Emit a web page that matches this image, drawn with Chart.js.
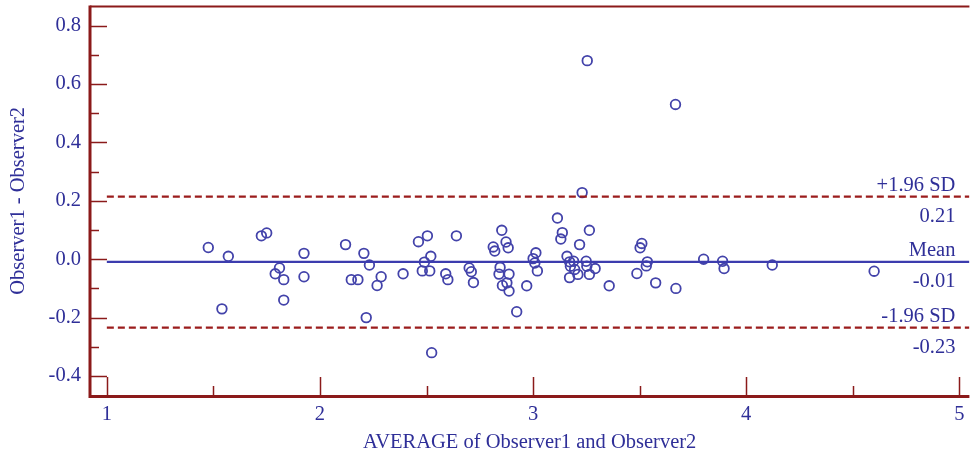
<!DOCTYPE html>
<html><head><meta charset="utf-8">
<script src="https://cdn.jsdelivr.net/npm/chart.js@4/dist/chart.umd.min.js"></script>
<style>html,body{margin:0;padding:0;background:#fff}#wrap{width:976px;height:457px;position:relative}</style>
</head><body><div id="wrap"><canvas id="c" width="976" height="457"></canvas></div>
<script>
// Bland-Altman data: average (x) and difference (y)
const averages = [1.476,1.54,1.57,1.725,1.75,1.81,1.79,1.83,1.83,1.925,1.925,
  2.12,2.206,2.232,2.147,2.178,2.287,2.268,2.217,2.39,2.462,2.504,2.52,2.49,2.48,2.515,2.524,2.59,2.60,2.64,2.70,2.71,2.72,
  2.813,2.82,2.853,2.873,2.883,2.845,2.84,2.887,2.856,2.877,2.887,2.923,2.97,3.0,3.013,3.008,3.02,
  3.114,3.137,3.13,3.159,3.171,3.19,3.175,3.195,3.171,3.21,3.218,3.23,3.254,3.249,3.252,3.264,3.264,3.291,3.357,
  3.487,3.51,3.502,3.536,3.531,3.575,3.67,3.668,3.80,3.889,3.896,4.122,4.60];
const differences = [0.040,-0.17,0.010,0.080,0.090,-0.030,-0.050,-0.070,-0.140,0.020,-0.060,
  0.050,0.020,-0.020,-0.070,-0.070,-0.060,-0.090,-0.200,-0.050,0.060,0.080,0.010,-0.010,-0.040,-0.040,-0.320,-0.050,-0.070,0.080,-0.030,-0.043,-0.080,
  0.042,0.028,0.099,0.059,0.039,-0.028,-0.051,-0.051,-0.090,-0.081,-0.109,-0.180,-0.091,0.002,0.022,-0.013,-0.040,
  0.141,0.091,0.069,0.010,-0.009,-0.007,-0.024,-0.035,-0.063,-0.052,0.050,0.228,0.680,-0.007,-0.024,-0.052,0.099,-0.032,-0.091,
  -0.049,0.054,0.039,-0.009,-0.023,-0.081,-0.100,0.530,0.000,-0.007,-0.032,-0.020,-0.041];
const meanDiff = -0.009;
const upperLimit = 0.214;
const lowerLimit = -0.234;
const limitTexts = [['+1.96 SD','0.21'],['Mean','-0.01'],['-1.96 SD','-0.23']];
const xTickValues = [1,2,3,4,5];
const xMinorValues = [1.5,2.5,3.5,4.5];
const yTickValues = [-0.4,-0.2,0.0,0.2,0.4,0.6,0.8];
const yMinorValues = [-0.3,-0.1,0.1,0.3,0.5,0.7];
const xTitle = 'AVERAGE of Observer1 and Observer2';
const yTitle = 'Observer1 - Observer2';

const X_MIN = 0.921, X_MAX = 5.047, Y_MIN = -0.465, Y_MAX = 0.865;
const RED = '#8b1a1a', BLUE = '#2f2f98', PT = '#4343aa';
const FONT = 'Liberation Serif, Times New Roman, serif';
const FS = 20.5;

const points = averages.map((a,i)=>({x:a,y:differences[i]}));
const lineData = v => [{x:1,y:v},{x:X_MAX,y:v}];

const noPad = s => { s.paddingTop = 0; s.paddingBottom = 0; s.paddingLeft = 0; s.paddingRight = 0; };

const framePlugin = {
  id:'frame',
  afterDraw(chart){
    const ctx = chart.ctx, xs = chart.scales.x, ys = chart.scales.y, a = chart.chartArea;
    ctx.save();
    ctx.strokeStyle = RED; ctx.lineCap='butt';
    ctx.lineWidth = 3;
    ctx.beginPath(); ctx.moveTo(a.left, a.top-1); ctx.lineTo(a.left, a.bottom+1.5); ctx.lineTo(a.right, a.bottom+1.5); ctx.stroke();
    ctx.lineWidth = 2;
    ctx.beginPath(); ctx.moveTo(a.left, a.top); ctx.lineTo(a.right, a.top); ctx.stroke();
    ctx.lineWidth = 1.5;
    const tick = (x1,y1,x2,y2)=>{ctx.beginPath();ctx.moveTo(x1,y1);ctx.lineTo(x2,y2);ctx.stroke();};
    yTickValues.forEach(v=>{const y=Math.round(ys.getPixelForValue(v))+0.5; tick(a.left,y,a.left+17,y);});
    yMinorValues.forEach(v=>{const y=Math.round(ys.getPixelForValue(v))+0.5; tick(a.left,y,a.left+9,y);});
    xTickValues.forEach(v=>{const x=Math.round(xs.getPixelForValue(v))+0.5; tick(x,a.bottom,x,a.bottom-18);});
    xMinorValues.forEach(v=>{const x=Math.round(xs.getPixelForValue(v))+0.5; tick(x,a.bottom,x,a.bottom-9);});
    ctx.fillStyle = BLUE; ctx.font = FS + 'px ' + FONT; ctx.textAlign='right'; ctx.textBaseline='alphabetic';
    const rx = xs.getPixelForValue(5) - 4;
    [upperLimit, meanDiff, lowerLimit].forEach((v,i)=>{
      const y = ys.getPixelForValue(v);
      ctx.fillText(limitTexts[i][0], rx, y - 6);
      ctx.fillText(limitTexts[i][1], rx, y + 25);
    });
    ctx.restore();
  }
};

new Chart(document.getElementById('c'), {
  type:'scatter',
  data:{datasets:[
    {label:'diff', data:points, showLine:false, pointStyle:'circle', pointRadius:4.8, pointHoverRadius:4.8,
     borderColor:PT, borderWidth:1.8, backgroundColor:'rgba(0,0,0,0)', order:2},
    {label:'mean', data:lineData(meanDiff), type:'line', showLine:true, borderColor:'#3c3cae', borderWidth:2.2, pointRadius:0, order:1},
    {label:'upper', data:lineData(upperLimit), type:'line', showLine:true, borderColor:'#9b1c1c', borderWidth:2.2, borderDash:[7,4], pointRadius:0, order:1},
    {label:'lower', data:lineData(lowerLimit), type:'line', showLine:true, borderColor:'#9b1c1c', borderWidth:2.2, borderDash:[7,4], pointRadius:0, order:1}
  ]},
  options:{
    responsive:false, devicePixelRatio:1, animation:false,
    layout:{padding:{top:6,right:0,left:0,bottom:0}},
    plugins:{legend:{display:false}, tooltip:{enabled:false}},
    scales:{
      x:{type:'linear', min:X_MIN, max:X_MAX,
         afterBuildTicks:s=>{s.ticks = xTickValues.map(v=>({value:v}));},
         afterFit:s=>{s.height = 62; noPad(s);},
         grid:{display:false, drawTicks:false}, border:{display:false},
         ticks:{color:BLUE, font:{family:FONT,size:FS}, padding:7, maxRotation:0, autoSkip:false, callback:v=>String(v)},
         title:{display:true, text:xTitle, color:BLUE, font:{family:FONT,size:FS}, padding:{top:0,bottom:2}}},
      y:{type:'linear', min:Y_MIN, max:Y_MAX,
         afterBuildTicks:s=>{s.ticks = yTickValues.map(v=>({value:v}));},
         afterFit:s=>{s.width = 90; noPad(s);},
         grid:{display:false, drawTicks:false}, border:{display:false},
         ticks:{color:BLUE, font:{family:FONT,size:FS}, padding:9, autoSkip:false, callback:v=>Number(v).toFixed(1)},
         title:{display:true, text:yTitle, color:BLUE, font:{family:FONT,size:FS}, padding:{top:6,bottom:0}}}
    }
  },
  plugins:[framePlugin]
});
</script></body></html>
